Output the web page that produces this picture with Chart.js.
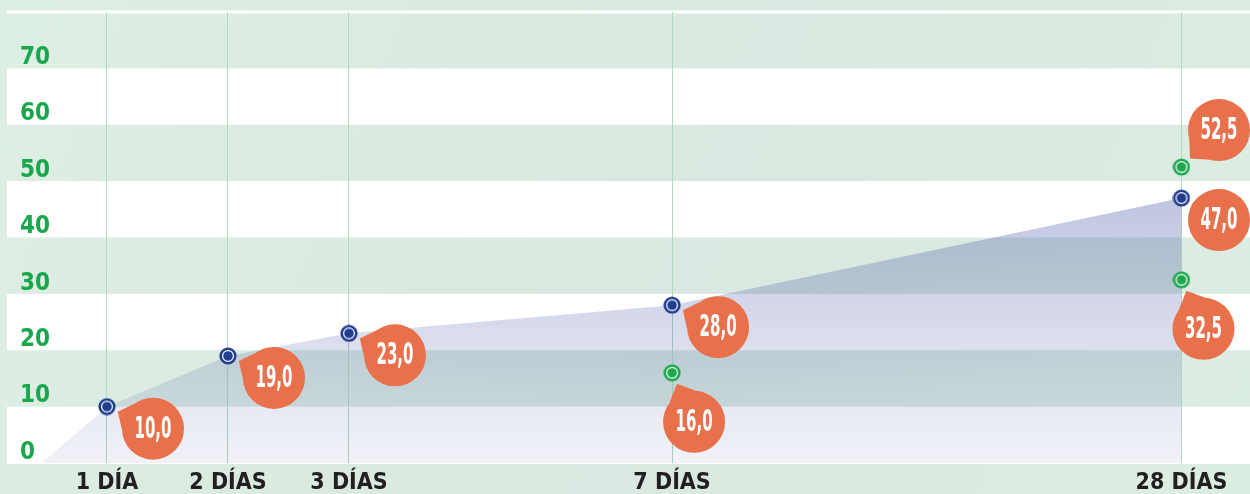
<!DOCTYPE html>
<html>
<head>
<meta charset="utf-8">
<style>
  html, body { margin: 0; padding: 0; background: #dcede2; }
  #wrap { width: 1250px; height: 494px; }
</style>
<script src="https://cdn.jsdelivr.net/npm/chart.js@4/dist/chart.umd.min.js"></script>
</head>
<body>
<div id="wrap"><canvas id="chart" width="1250" height="494"></canvas></div>
<script>
// ==== DATA ====
// first slot is the origin of the curve (no label)
const DAY_LABELS = ["", "1 DÍA", "2 DÍAS", "3 DÍAS", "7 DÍAS", "28 DÍAS"];
// uneven spacing of the ages along the horizontal axis
const DAY_POS = [0.46, 1, 2, 3, 5.67, 9.88];
const STRENGTH = [0, 10.0, 19.0, 23.0, 28.0, 47.0];      // blue curve
const EXTRA_DAY = ["7 DÍAS", "28 DÍAS", "28 DÍAS"];        // green points
const EXTRA_VAL = [16.0, 32.5, 52.5];
const Y_TICKS = [0, 10, 20, 30, 40, 50, 60, 70];
const Y_MAX = 80;

// ==== Styles ====
const FONT = "'Liberation Sans Narrow','DejaVu Sans Condensed','Arial Narrow',sans-serif";
const BLUE = "#213d8e";
const GREEN = "#1ea84d";
const ORANGE = "#e8704b";

// bubble placement (offset of bubble centre from its point)
const BUBBLE_R = 31;
const BLUE_OFF = [46, 22];
const GREEN_OFF = { below: [22, 49], above: [46, -37] };
const GREEN_SIDE = ["below", "below", "above"];

// ==== Helpers ====
function dot(color) {
  const c = document.createElement("canvas");
  c.width = c.height = 18;
  const g = c.getContext("2d");
  g.fillStyle = color;
  g.beginPath(); g.arc(9, 9, 8.6, 0, Math.PI * 2); g.fill();
  g.strokeStyle = "#fff"; g.lineWidth = 1.2;
  g.beginPath(); g.arc(9, 9, 5.4, 0, Math.PI * 2); g.stroke();
  return c;
}
const fmt = (v) => v.toFixed(1).replace(".", ",");
const noPad = (s) => { s.paddingTop = s.paddingBottom = s.paddingLeft = s.paddingRight = 0; };

const blueData = DAY_POS.map((p, i) => ({ x: p, y: STRENGTH[i] }));
const greenData = EXTRA_DAY.map((d, i) => ({ x: DAY_POS[DAY_LABELS.indexOf(d)], y: EXTRA_VAL[i] }));

// ==== Background: page tint, white bands, top rule ====
const bandsPlugin = {
  id: "bands",
  beforeDraw(chart) {
    const { ctx, chartArea: a, scales: { y } } = chart;
    ctx.save();
    const bg = ctx.createLinearGradient(0, 0, chart.width, chart.height);
    bg.addColorStop(0, "#ddeee3");
    bg.addColorStop(0.55, "#d9e8e0");
    bg.addColorStop(1, "#dcede2");
    ctx.fillStyle = bg;
    ctx.fillRect(0, 0, chart.width, chart.height);

    ctx.fillStyle = "#ffffff";
    Y_TICKS.forEach((v, i) => {
      if (i % 2) return;
      const top = y.getPixelForValue(v + 10), bot = y.getPixelForValue(v);
      ctx.fillRect(a.left, top, a.right - a.left, bot - top);
    });
    const yt = y.getPixelForValue(Y_MAX);
    ctx.fillRect(a.left, yt - 1.5, a.right - a.left, 3);
    ctx.fillRect(a.left, y.getPixelForValue(0) - 0.5, a.right - a.left, 1.5);
    ctx.restore();
  }
};

// ==== Speech bubbles with the values ====
const bubblePlugin = {
  id: "valueBubbles",
  afterDatasetsDraw(chart) {
    const ctx = chart.ctx;
    ctx.save();
    ctx.font = `bold 31px ${FONT}`;
    const sx = 37 / ctx.measureText("28,0").width;
    chart.data.datasets.forEach((ds, di) => {
      const meta = chart.getDatasetMeta(di);
      meta.data.forEach((pt, j) => {
        const v = ds.data[j].y;
        let off;
        if (ds.label === "curva") {
          if (j === 0) return;
          off = BLUE_OFF;
        } else {
          off = GREEN_OFF[GREEN_SIDE[j]];
        }
        let cx = Math.min(pt.x + off[0], chart.width - BUBBLE_R);
        const cy = pt.y + off[1];
        const ang = Math.atan2(pt.y - cy, pt.x - cx);
        const dist = Math.hypot(pt.x - cx, pt.y - cy);
        const tip = dist - 12;
        ctx.fillStyle = ORANGE;
        ctx.beginPath();
        ctx.moveTo(cx + Math.cos(ang) * tip, cy + Math.sin(ang) * tip);
        ctx.lineTo(cx + Math.cos(ang + 0.5) * BUBBLE_R, cy + Math.sin(ang + 0.5) * BUBBLE_R);
        ctx.lineTo(cx + Math.cos(ang - 0.5) * BUBBLE_R, cy + Math.sin(ang - 0.5) * BUBBLE_R);
        ctx.closePath();
        ctx.fill();
        ctx.beginPath();
        ctx.arc(cx, cy, BUBBLE_R, 0, Math.PI * 2);
        ctx.fill();

        ctx.save();
        ctx.translate(cx, cy + 1);
        ctx.scale(sx, 1);
        ctx.fillStyle = "#ffffff";
        ctx.textAlign = "center";
        ctx.textBaseline = "middle";
        ctx.fillText(fmt(v), 0, 0);
        ctx.restore();
      });
    });
    ctx.restore();
  }
};

// ==== Chart ====
new Chart(document.getElementById("chart"), {
  type: "scatter",
  data: {
    datasets: [
      {
        label: "extra",
        data: greenData,
        order: 0,
        showLine: false,
        pointStyle: dot(GREEN),
        pointRadius: 9
      },
      {
        label: "curva",
        data: blueData,
        order: 1,
        showLine: true,
        tension: 0,
        borderWidth: 0,
        borderColor: "rgba(0,0,0,0)",
        fill: "origin",
        backgroundColor: (c) => {
          const { chart } = c;
          if (!chart.chartArea) return "rgba(60,75,160,0.2)";
          const y = chart.scales.y;
          const g = chart.ctx.createLinearGradient(0, y.getPixelForValue(47), 0, y.getPixelForValue(0));
          g.addColorStop(0, "rgba(60,75,160,0.32)");
          g.addColorStop(1, "rgba(60,75,160,0.07)");
          return g;
        },
        pointStyle: dot(BLUE),
        pointRadius: (c) => (c.dataIndex === 0 ? 0 : 9)
      }
    ]
  },
  options: {
    responsive: false,
    animation: false,
    events: [],
    layout: { autoPadding: false, padding: { top: 12, left: 7, right: 0, bottom: 0 } },
    plugins: { legend: { display: false }, tooltip: { enabled: false } },
    scales: {
      x: {
        type: "linear",
        min: 0.1736,
        max: 10.4463,
        afterBuildTicks: (s) => {
          s.ticks = DAY_POS.filter((p, i) => DAY_LABELS[i]).map((p) => ({ value: p }));
        },
        afterFit: (s) => { s.height = 31; noPad(s); },
        grid: { color: "#b2dabf", lineWidth: 1, drawTicks: false },
        border: { display: false },
        ticks: {
          autoSkip: false,
          maxRotation: 0,
          padding: 6,
          color: "#231f20",
          font: { family: FONT, size: 23, weight: "bold" },
          callback: (v) => DAY_LABELS[DAY_POS.indexOf(v)]
        }
      },
      y: {
        min: 0,
        max: Y_MAX,
        afterBuildTicks: (s) => { s.ticks = Y_TICKS.map((v) => ({ value: v })); },
        afterFit: (s) => { s.width = 0; noPad(s); },
        grid: { display: false },
        border: { display: false },
        ticks: {
          mirror: true,
          padding: 13,
          labelOffset: -10.5,
          color: "#17a84b",
          font: { family: FONT, size: 24, weight: "bold" }
        }
      }
    }
  },
  plugins: [bandsPlugin, bubblePlugin]
});
</script>
</body>
</html>
